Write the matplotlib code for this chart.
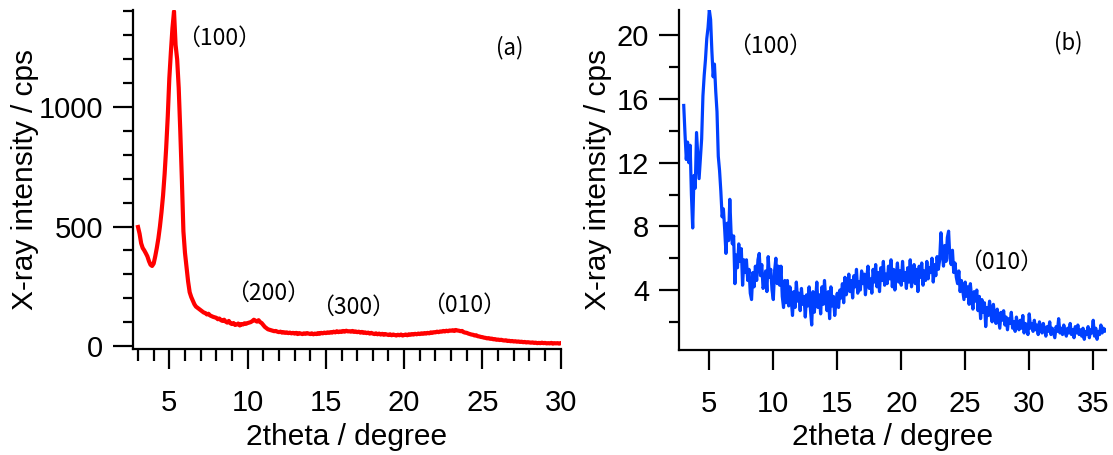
# XRD patterns - (a) and (b)

import numpy as np
import matplotlib.pyplot as plt
from matplotlib.ticker import MultipleLocator

plt.rcParams['font.family'] = ['Liberation Sans', 'DejaVu Sans']

# ------------------------------------------
# Data (0.1 degree step)
# ------------------------------------------

two_theta_a = np.round(np.arange(3.0, 30.05, 0.1), 1)
intensity_a = [
    498, 470, 430, 410, 400, 388, 375, 355, 340, 335,
    345, 375, 410, 450, 500, 560, 630, 720, 830, 960,
    1120, 1230, 1330, 1400, 1260, 1200, 1080, 900, 700, 480,
    390, 330, 270, 225, 205, 190, 175, 165, 160, 155,
    150, 145, 140, 138, 132, 135, 128, 125, 122, 120,
    118, 112, 115, 108, 105, 110, 102, 98, 105, 95,
    92, 96, 88, 90, 94, 86, 92, 90, 95, 93,
    96, 98, 100, 104, 110, 106, 102, 108, 100, 96,
    88, 80, 75, 70, 68, 66, 64, 62, 63, 60,
    58, 60, 56, 58, 55, 57, 54, 56, 53, 55,
    52, 55, 50, 54, 52, 50, 53, 51, 54, 52,
    50, 53, 49, 52, 50, 54, 51, 55, 53, 56,
    54, 57, 55, 58, 56, 60, 57, 62, 58, 61,
    59, 63, 60, 64, 61, 62, 60, 63, 59, 61,
    58, 60, 56, 59, 55, 57, 54, 56, 52, 55,
    52, 50, 53, 49, 52, 48, 51, 47, 50, 48,
    46, 49, 45, 48, 46, 44, 47, 45, 48, 44,
    46, 48, 45, 49, 47, 50, 48, 51, 49, 52,
    50, 53, 51, 54, 52, 55, 53, 57, 55, 58,
    57, 60, 58, 61, 60, 63, 61, 64, 62, 65,
    64, 66, 63, 67, 65, 64, 62, 63, 58, 56,
    55, 52, 50, 48, 47, 44, 45, 41, 40, 38,
    37, 35, 34, 32, 33, 30, 31, 28, 29, 26,
    27, 25, 26, 24, 23, 24, 21, 22, 20, 21,
    19, 20, 18, 19, 17, 18, 16, 17, 15, 16,
    15, 14, 15, 13, 14, 12, 13, 12, 14, 12,
    13, 11, 12, 11, 13, 10, 12, 11, 12, 10,
    12,
]

two_theta_b = np.round(np.arange(3.0, 36.05, 0.1), 1)
intensity_b = [
    15.6, 13.8, 12.2, 13.3, 12.0, 13.1, 10.0, 7.9, 11.2, 10.4,
    13.9, 12.5, 11.0, 12.2, 13.5, 16.2, 17.5, 18.5, 19.8, 20.5,
    21.6, 21.0, 19.0, 17.4, 18.2, 16.5, 15.2, 12.4, 11.5, 10.2,
    8.6, 9.1, 7.8, 6.3, 8.2, 7.1, 9.7, 7.6, 6.9, 7.4,
    4.4, 6.2, 5.4, 6.9, 5.8, 6.6, 4.3, 5.9, 5.1, 5.9,
    4.6, 5.3, 3.8, 3.4, 5.1, 4.2, 5.5, 4.6, 5.9, 6.3,
    4.9, 5.6, 4.1, 4.4, 5.2, 3.9, 6.1, 4.8, 5.3, 4.0,
    3.4, 5.2, 6.0, 4.4, 5.5, 4.3, 5.5, 3.6, 2.9, 4.6,
    3.2, 4.6, 3.0, 4.2, 3.4, 2.4, 3.9, 2.9, 4.5, 3.3,
    3.8, 2.7, 4.1, 3.1, 3.6, 2.3, 3.7, 3.0, 4.2, 2.8,
    1.8, 3.9, 2.6, 3.3, 4.5, 2.9, 3.7, 2.5, 4.2, 3.1,
    4.6, 3.4, 2.7, 3.9, 2.2, 4.2, 3.0, 3.6, 2.4, 3.3,
    3.8, 2.9, 4.0, 3.5, 4.4, 3.2, 4.8, 3.7, 4.1, 5.0,
    3.9, 4.6, 3.5, 4.9, 4.2, 5.3, 3.8, 4.5, 4.0, 5.2,
    4.4, 5.0, 3.7, 4.8, 5.5, 4.1, 4.7, 3.8, 5.3, 4.5,
    5.6, 4.2, 5.1, 3.9, 5.4, 4.6, 5.8, 4.3, 5.0, 4.4,
    5.5, 4.7, 5.9, 4.2, 5.3, 4.0, 4.9, 5.7, 4.5, 5.2,
    4.3, 5.8, 4.6, 5.1, 4.1, 5.4, 4.5, 5.9, 4.2, 5.0,
    5.6, 4.4, 5.3, 3.9, 5.5, 4.8, 5.7, 4.3, 5.2, 4.6,
    5.8, 4.7, 5.4, 5.1, 6.0, 4.5, 5.6, 4.9, 6.1, 5.3,
    5.9, 7.6, 6.4, 5.5, 6.8, 5.8, 7.3, 7.7, 6.0, 5.6,
    6.5, 5.1, 5.7, 4.8, 4.4, 5.2, 3.9, 4.6, 4.0, 3.4,
    4.5, 3.6, 4.2, 3.1, 4.4, 3.5, 2.8, 3.9, 3.3, 4.0,
    2.7, 3.6, 2.2, 3.4, 2.6, 3.2, 1.7, 2.9, 2.4, 3.3,
    2.5, 2.0, 3.1, 2.3, 1.9, 2.8, 2.2, 1.6, 2.6, 2.1,
    2.7, 1.8, 2.3, 1.5, 2.2, 1.9, 2.6, 1.6, 2.0, 1.4,
    2.3, 1.8, 1.5, 2.1, 1.6, 2.4, 1.3, 1.9, 1.7, 1.2,
    2.5, 1.6, 1.9, 1.4, 2.1, 1.5, 1.8, 1.2, 2.0, 1.6,
    1.3, 1.9, 1.5, 1.1, 1.7, 1.4, 2.0, 1.2, 1.6, 1.3,
    1.0, 1.7, 1.4, 2.2, 1.3, 1.6, 1.2, 1.8, 1.4, 1.1,
    1.6, 1.3, 1.9, 1.2, 1.5, 1.0, 1.7, 1.3, 1.8, 1.2,
    1.5, 1.1, 1.6, 0.9, 1.4, 1.2, 1.7, 1.0, 1.5, 1.3,
    2.1, 1.1, 1.6, 0.9, 1.4, 1.2, 1.8, 1.3, 1.6, 1.4,
    1.5,
]

# peak labels: (text, x, y)
peaks_a = [("（100）", 8.17, 1289), ("（200）", 11.33, 222),
           ("（300）", 16.76, 163), ("（010）", 23.82, 172)]
peaks_b = [("（100）", 9.74, 19.29), ("（010）", 27.79, 5.76)]

# ------------------------------------------
# Figure
# ------------------------------------------

fig = plt.figure(figsize=(11.13, 4.55), dpi=100)
ax_a = fig.add_axes([133 / 1113, 106 / 455, 427.7 / 1113, 339 / 455])
ax_b = fig.add_axes([679 / 1113, 105 / 455, 427 / 1113, 340 / 455])

ax_a.plot(two_theta_a, intensity_a, color="#ff0000", lw=3.0)
ax_b.plot(two_theta_b, intensity_b, color="#0040ff", lw=2.3)

ax_a.set_xlim(2.68, 30)
ax_a.set_ylim(-12.5, 1406)
ax_b.set_xlim(2.63, 36)
ax_b.set_ylim(0.23, 21.6)

ax_a.xaxis.set_major_locator(MultipleLocator(5))
ax_a.xaxis.set_minor_locator(MultipleLocator(1))
ax_a.yaxis.set_major_locator(MultipleLocator(500))
ax_a.yaxis.set_minor_locator(MultipleLocator(100))
ax_b.xaxis.set_major_locator(MultipleLocator(5))
ax_b.yaxis.set_major_locator(MultipleLocator(4))
ax_b.yaxis.set_minor_locator(MultipleLocator(2))

for ax in (ax_a, ax_b):
    ax.spines["top"].set_visible(False)
    ax.spines["right"].set_visible(False)
    ax.spines["left"].set_linewidth(1.6)
    ax.spines["bottom"].set_linewidth(1.6)
    ax.tick_params(which="major", length=14.5, width=1.6, labelsize=21)
    ax.tick_params(which="minor", length=7.5, width=1.6)
    ax.tick_params(axis="x", which="major", pad=14)
    ax.tick_params(axis="y", which="major", pad=7)

ax_a.tick_params(axis="x", which="minor", length=8.5)

# axis titles
fig.text(25 / 1113, 1 - 180 / 455, "X-ray intensity / cps", rotation=90,
         ha="center", va="center", fontsize=21.5)
fig.text(598 / 1113, 1 - 180 / 455, "X-ray intensity / cps", rotation=90,
         ha="center", va="center", fontsize=21.5)
fig.text(347 / 1113, 1 - 437 / 455, "2theta / degree",
         ha="center", va="center", fontsize=21.5)
fig.text(892.5 / 1113, 1 - 437 / 455, "2theta / degree",
         ha="center", va="center", fontsize=21.5)

# peak labels
cjk = ["Noto Sans CJK JP", "DejaVu Sans"]
for label, x, y in peaks_a:
    ax_a.text(x, y, label, ha="center", va="center", fontsize=16.5, family=cjk)
for label, x, y in peaks_b:
    ax_b.text(x, y, label, ha="center", va="center", fontsize=16.5, family=cjk)

ax_a.text(26.75, 1247, "(a)", ha="center", va="center", fontsize=16, family=cjk)
ax_b.text(33.02, 19.54, "(b)", ha="center", va="center", fontsize=16, family=cjk)

fig.savefig("out.png", dpi=100)
